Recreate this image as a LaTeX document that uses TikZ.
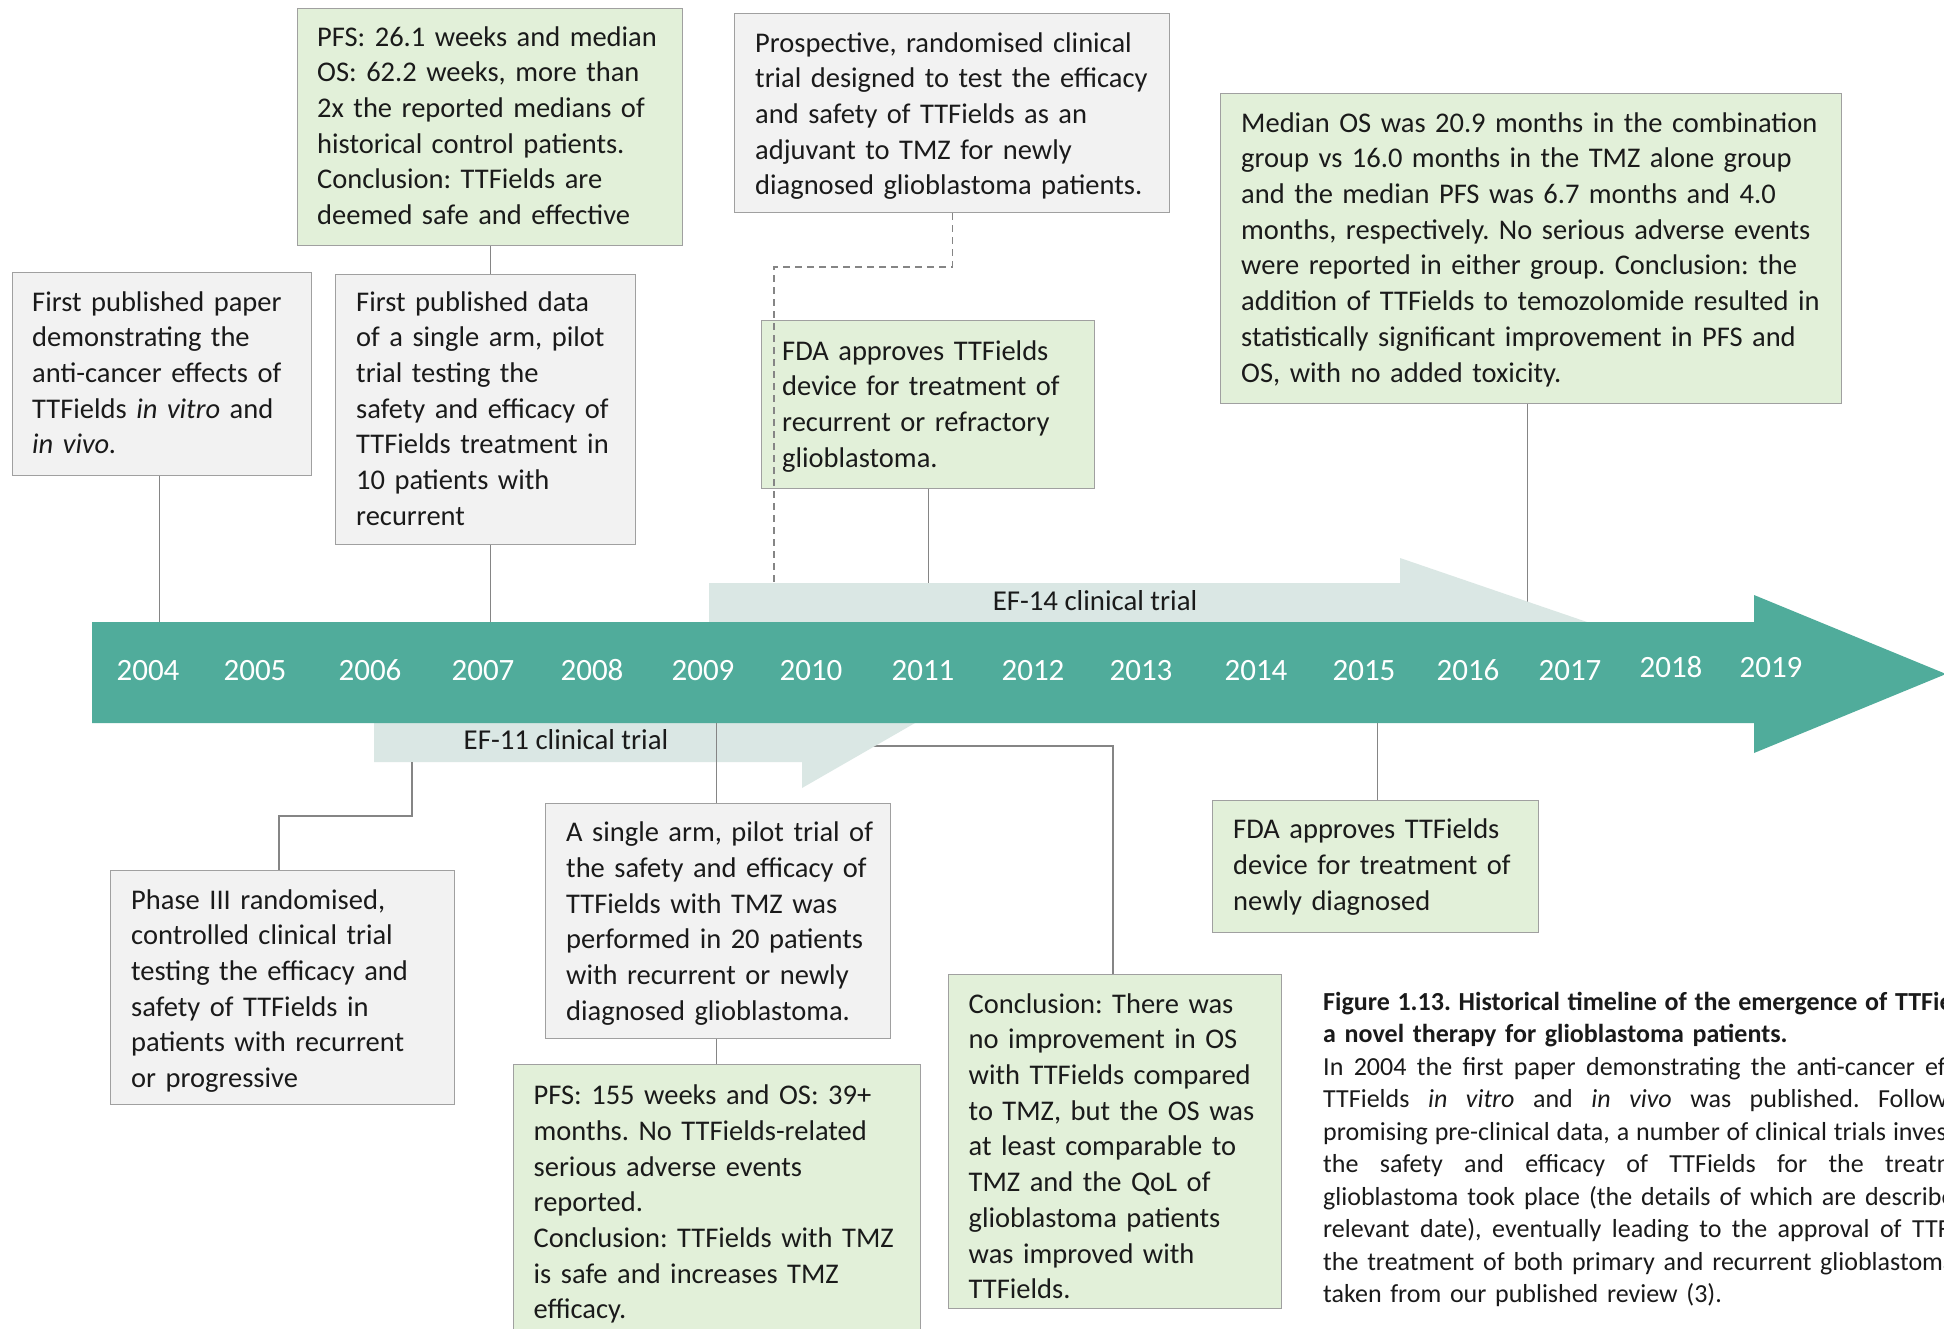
\documentclass[tikz,border=0pt]{standalone}
\usepackage{fontspec}
\setmainfont{Carlito}
\definecolor{teal1}{HTML}{50AC9B}
\definecolor{bandc}{HTML}{DAE7E4}
\definecolor{greyf}{HTML}{F2F2F2}
\definecolor{greenf}{HTML}{E2F0D9}
\definecolor{bord}{HTML}{A0A0A0}
\definecolor{lnc}{HTML}{858585}
\definecolor{txtc}{HTML}{1A1A1A}
\newcommand\capline[3]{{\spaceskip=0pt\xspaceskip=0pt\makebox[#1pt][s]{#2\ }#3}}
\tikzset{
  greybox/.style={draw=bord, fill=greyf, line width=1.4pt, inner sep=0pt, anchor=north west},
  greenbox/.style={draw=bord, fill=greenf, line width=1.4pt, inner sep=0pt, anchor=north west},
  boxtxt/.style={anchor=north west, inner sep=0pt, text width=700pt, text=txtc,
    font=\fontsize{28.5}{35.7}\selectfont\frenchspacing},
  captxt/.style={anchor=north west, inner sep=0pt, text width=700pt, text=txtc,
    font=\fontsize{26.0}{32.5}\selectfont\frenchspacing},
  yearlbl/.style={anchor=base, inner sep=0pt, text=white, font=\fontsize{31}{37}\selectfont},
  bandlbl/.style={anchor=base, inner sep=0pt, text=txtc, font=\fontsize{28.8}{35.7}\selectfont},
  conn/.style={draw=lnc, line width=1.3pt},
  dconn/.style={draw=lnc, line width=1.3pt, dash pattern=on 7pt off 5pt},
}
\begin{document}
\frenchspacing
\begin{tikzpicture}[x=1pt,y=-1pt]
\useasboundingbox (0,0) rectangle (1944,1329);
\clip (0,0) rectangle (1944,1329);
\fill[white] (0,0) rectangle (1944,1329);

% ---------- boxes ----------
\node[greybox, minimum width=299pt, minimum height=203pt] (A) at (12,272) {};
\node[boxtxt] (At) at (32,286) {\strut First published paper\\demonstrating the\\anti-cancer effects of\\TTFields \textit{in vitro} and\\\textit{in vivo.}};

\node[greenbox, minimum width=385pt, minimum height=237pt] (F26) at (297,8) {};
\node[boxtxt] (F26t) at (317,21) {\strut PFS: 26.1 weeks and median\\OS: 62.2 weeks, more than\\2x the reported medians of\\historical control patients.\\Conclusion: TTFields are\\deemed safe and effective};

\node[greybox, minimum width=300pt, minimum height=270pt] (B) at (335,274) {};
\node[boxtxt] (Bt) at (356,286) {\strut First published data\\of a single arm, pilot\\trial testing the\\safety and efficacy of\\TTFields treatment in\\10 patients with\\recurrent};

\node[greybox, minimum width=435pt, minimum height=199pt] (P) at (734,13) {};
\node[boxtxt] (Pt) at (755,27) {\strut Prospective, randomised clinical\\trial designed to test the efficacy\\and safety of TTFields as an\\adjuvant to TMZ for newly\\diagnosed glioblastoma patients.};

\node[greenbox, minimum width=333pt, minimum height=168pt] (R) at (761,320) {};
\node[boxtxt] (Rt) at (782,335) {\strut FDA approves TTFields\\device for treatment of\\recurrent or refractory\\glioblastoma.};

\node[greenbox, minimum width=621pt, minimum height=310pt] (M) at (1220,93) {};
\node[boxtxt] (Mt) at (1241,107) {\strut Median OS was 20.9 months in the combination\\group vs 16.0 months in the TMZ alone group\\and the median PFS was 6.7 months and 4.0\\months, respectively. No serious adverse events\\were reported in either group. Conclusion: the\\addition of TTFields to temozolomide resulted in\\statistically significant improvement in PFS and\\OS, with no added toxicity.};

\node[greybox, minimum width=344pt, minimum height=234pt] (Ph) at (110,870) {};
\node[boxtxt] (Pht) at (131,884) {\strut Phase III randomised,\\controlled clinical trial\\testing the efficacy and\\safety of TTFields in\\patients with recurrent\\or progressive};

\node[greybox, minimum width=345pt, minimum height=235pt] (S) at (545,803) {};
\node[boxtxt] (St) at (566,816.5) {\strut A single arm, pilot trial of\\the safety and efficacy of\\TTFields with TMZ was\\performed in 20 patients\\with recurrent or newly\\diagnosed glioblastoma.};

\node[greenbox, minimum width=407pt, minimum height=290pt] (G) at (513,1064) {};
\node[boxtxt] (Gt) at (533.5,1079.5) {\strut PFS: 155 weeks and OS: 39+\\months. No TTFields-related\\serious adverse events\\reported.\\Conclusion: TTFields with TMZ\\is safe and increases TMZ\\efficacy.};

\node[greenbox, minimum width=333pt, minimum height=334pt] (C) at (948,974) {};
\node[boxtxt] (Ct) at (968.5,988) {\strut Conclusion: There was\\no improvement in OS\\with TTFields compared\\to TMZ, but the OS was\\at least comparable to\\TMZ and the QoL of\\glioblastoma patients\\was improved with\\TTFields.};

\node[greenbox, minimum width=326pt, minimum height=132pt] (N) at (1212,800) {};
\node[boxtxt] (Nt) at (1233,813.5) {\strut FDA approves TTFields\\device for treatment of\\newly diagnosed};

% ---------- caption ----------
\node[captxt] (cap) at (1323,987.3) {\strut\capline{572}{\textbf{Figure 1.13. Historical timeline of the emergence of}}{\textbf{TTFields}}\\
\textbf{a novel therapy for glioblastoma patients.}\\
\capline{602}{In 2004 the first paper demonstrating the anti-cancer}{effects}\\
\capline{555}{TTFields \textit{in vitro} and \textit{in vivo} was published.}{Following}\\
\capline{570}{promising pre-clinical data, a number of clinical trials}{investigating}\\
\capline{562}{the safety and efficacy of TTFields for the}{treatment}\\
\capline{542}{glioblastoma took place (the details of which are}{described}\\
\capline{589}{relevant date), eventually leading to the approval of}{TTFields}\\
\capline{497}{the treatment of both primary and recurrent}{glioblastoma.}\\
taken from our published review (3).};

% ---------- reference coordinates ----------
\coordinate (atop) at (0,622);
\coordinate (abot) at (0,723);
\coordinate (efTop) at (0,583);
\coordinate (dknee) at (774,267);
\coordinate (e11a) at (412,762);
\coordinate (k1) at (412,816);
\coordinate (k2) at (279,816);
\coordinate (e11h) at (870,746);
\coordinate (k3) at (1113,746);

% ---------- connectors behind the bands ----------
\draw[conn] ([xshift=-3.5pt]M.south) -- ++(0,200);
\draw[conn] (e11h) -- (k3) -- (k3 |- C.north);

% ---------- trial bands ----------
\fill[bandc] (709,622) -- (709,583) -- (1400,583) -- (1400,558) -- (1587,622) -- cycle;
\fill[bandc] (374,723) -- (915,723) -- (802,788) -- (802,762) -- (374,762) -- cycle;

% ---------- main timeline arrow ----------
\fill[teal1] (92,622) -- (1754,622) -- (1754,595) -- (1946,674) -- (1754,753) -- (1754,723) -- (92,723) -- cycle;

\node[yearlbl] (y04) at (148,680) {2004};
\node[yearlbl] (y05) at (255,680) {2005};
\node[yearlbl] (y06) at (370,680) {2006};
\node[yearlbl] (y07) at (483,680) {2007};
\node[yearlbl] (y08) at (592,680) {2008};
\node[yearlbl] (y09) at (703,680) {2009};
\node[yearlbl] (y10) at (811,680) {2010};
\node[yearlbl] (y11) at (923,680) {2011};
\node[yearlbl] (y12) at (1033,680) {2012};
\node[yearlbl] (y13) at (1141,680) {2013};
\node[yearlbl] (y14) at (1256,680) {2014};
\node[yearlbl] (y15) at (1364,680) {2015};
\node[yearlbl] (y16) at (1468,680) {2016};
\node[yearlbl] (y17) at (1570,680) {2017};
\node[yearlbl] (y18) at (1671,677) {2018};
\node[yearlbl] (y19) at (1771,677) {2019};

\node[bandlbl] (ef14) at (1095,610) {EF-14 clinical trial};
\node[bandlbl] (ef11) at (566,749) {EF-11 clinical trial};

% ---------- connectors ----------
\draw[conn] ([xshift=-2.5pt]A.south) -- ([xshift=-2.5pt]A.south |- atop);
\draw[conn] (F26.south) -- (F26.south |- B.north);
\draw[conn] (F26.south |- B.south) -- (F26.south |- atop);
\draw[dconn] (P.south) |- (dknee) -- (dknee |- efTop);
\draw[conn] (R.south) -- (R.south |- efTop);
\draw[conn] ([xshift=-1.5pt]S.north |- abot) -- ([xshift=-1.5pt]S.north);
\draw[conn] ([xshift=-1.5pt]S.south) -- ([xshift=-1.5pt]S.south |- G.north);
\draw[conn] (e11a) -- (k1) -- (k2) -- (k2 |- Ph.north);
\draw[conn] ([xshift=2pt]N.north |- abot) -- ([xshift=2pt]N.north);
\end{tikzpicture}
\end{document}
